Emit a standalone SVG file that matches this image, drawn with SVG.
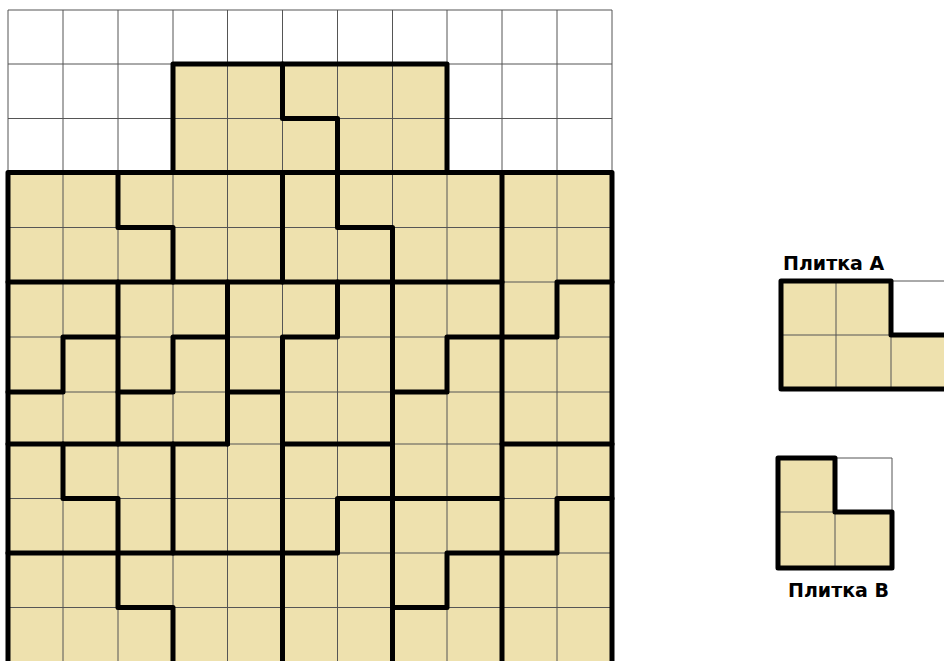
<svg xmlns="http://www.w3.org/2000/svg" width="944" height="661" viewBox="0 0 944 661">
<style>
.fill{fill:#EEE1AE;stroke:none}
.thin{stroke:#555;stroke-width:1;fill:none}
.thick{stroke:#000;stroke-width:5;fill:none;stroke-linecap:round;stroke-linejoin:round}
.lbl{font-family:"DejaVu Sans","Liberation Sans",sans-serif;font-weight:bold;font-size:19px;fill:#000}
</style>
<rect width="944" height="661" fill="#fff"/>
<g id="board">
<g id="board-fill">
<rect class="fill" x="173" y="64" width="274" height="108.5"/>
<rect class="fill" x="8" y="172.5" width="604" height="490"/>
</g>
<g id="board-grid" class="thin">
<path d="M8,10V662 M63,10V662 M118,10V662 M173,10V662 M227.5,10V662 M282.5,10V662 M337.5,10V662 M392.5,10V662 M447,10V662 M502,10V662 M557,10V662 M612,10V662"/>
<path d="M8,10H612 M8,64H612 M8,118.5H612 M8,172.5H612 M8,227.5H612 M8,282H612 M8,337H612 M8,392H612 M8,444H612 M8,498.5H612 M8,553H612 M8,607.5H612"/>
</g>
<g id="board-cuts" class="thick">
<path d="M173,172.5V64H447V172.5"/>
<path d="M8,662V172.5H612V662"/>
<path d="M282.5,64V118.5H337.5V172.5"/>
<path d="M118,172.5V227.5H173V282"/>
<path d="M282.5,172.5V282"/>
<path d="M337.5,172.5V227.5H392.5V662"/>
<path d="M502,172.5V662"/>
<path d="M8,282H502"/>
<path d="M612,282H557V337H447V392H392.5"/>
<path d="M118,337H63V392H8"/>
<path d="M118,282V444"/>
<path d="M227.5,337H173V392H118"/>
<path d="M227.5,282V444"/>
<path d="M227.5,392H282.5"/>
<path d="M282.5,662V337H337.5V282"/>
<path d="M8,444H227.5"/>
<path d="M282.5,444H392.5"/>
<path d="M502,444H612"/>
<path d="M63,444V498.5H118V553"/>
<path d="M173,444V553"/>
<path d="M8,553H337.5V498.5H502"/>
<path d="M612,498.5H557V553H447V607.5H392.5"/>
<path d="M118,553V607.5H173V662"/>
</g>
</g>
<g id="tile-a">
<polygon class="fill" points="781,281 891,281 891,335 944,335 944,389 781,389"/>
<path class="thin" d="M836,281V389 M891,335V389 M781,335H944 M891,281H944"/>
<path class="thick" d="M891,281H781V389H946 M891,281V335H946"/>
<text class="lbl" x="783" y="270">Плитка А</text>
</g>
<g id="tile-b">
<polygon class="fill" points="778,458 835,458 835,512 892,512 892,568 778,568"/>
<path class="thin" d="M778,512H835 M835,512V568 M835,458H892V512"/>
<path class="thick" d="M835,512V458H778V568H892V512H835"/>
<text class="lbl" x="788" y="597">Плитка В</text>
</g>
</svg>
